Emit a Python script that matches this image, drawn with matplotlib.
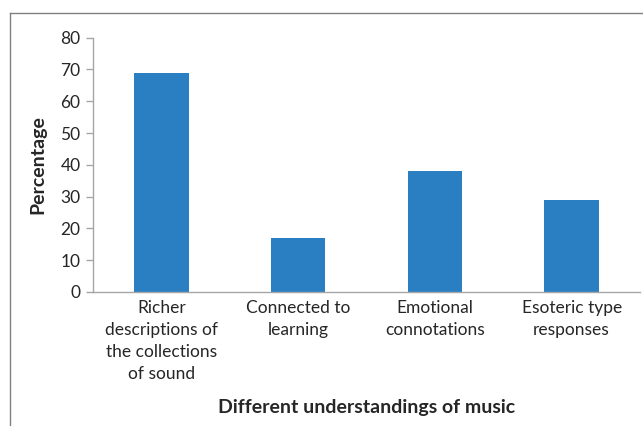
import matplotlib
matplotlib.use("Agg")
import matplotlib.pyplot as plt
from matplotlib.lines import Line2D

categories = ["Richer\ndescriptions of\nthe collections\nof sound",
              "Connected to\nlearning",
              "Emotional\nconnotations",
              "Esoteric type\nresponses"]
percentages = [69, 17, 38, 29]
yticks = [0, 10, 20, 30, 40, 50, 60, 70, 80]

plt.rcParams["font.family"] = ["Lato", "DejaVu Sans"]
W, H = 643, 426
fig = plt.figure(figsize=(W / 100, H / 100), dpi=100)
ax = fig.add_axes([93 / W, 1 - 292 / H, (640 - 93) / W, (292 - 37.7) / H])

x = range(len(categories))
ax.bar(x, percentages, width=0.4, color="#2a7fc2")
ax.set_xlim(-0.5, len(categories) - 0.5)
ax.set_ylim(0, 80)
ax.set_yticks(yticks)
ax.set_xticks(list(x))
ax.set_xticklabels(categories, linespacing=1.45)

for s in ["top", "right"]:
    ax.spines[s].set_visible(False)
for s in ["left", "bottom"]:
    ax.spines[s].set_color("#a6a6a6")
    ax.spines[s].set_linewidth(1.0)
ax.tick_params(axis="y", colors="#a6a6a6", labelcolor="#262626", labelsize=12.5,
               length=5, width=1.0, pad=4)
ax.tick_params(axis="x", length=0, labelcolor="#262626", labelsize=12.5, pad=6)

ax.set_ylabel("Percentage", fontsize=14, fontweight="bold", color="#262626", labelpad=10)
ax.set_xlabel("Different understandings of music", fontsize=14, fontweight="bold",
              color="#262626", labelpad=12)

# outer frame (top and left edges visible)
fx0, fy0 = 9.5 / W, 1 - 12.5 / H
fig.add_artist(Line2D([fx0, 1.0], [fy0, fy0], transform=fig.transFigure, color="#808080", lw=1.0))
fig.add_artist(Line2D([fx0, fx0], [0, fy0], transform=fig.transFigure, color="#808080", lw=1.0))

fig.savefig("out.png", dpi=100)
